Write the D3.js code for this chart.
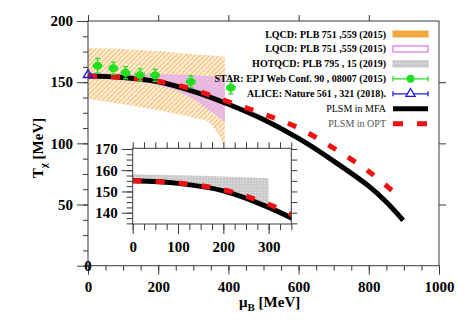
<!DOCTYPE html>
<html><head><meta charset="utf-8">
<script src="https://cdn.jsdelivr.net/npm/d3@7"></script>
<style>
html,body{margin:0;padding:0;background:#fff;}
svg{display:block;font-family:"Liberation Serif","Times New Roman",serif;}
</style></head><body>
<svg id="chart" width="471" height="324"></svg>
<script>
// PLSM chiral pseudo-critical temperature vs baryon chemical potential
const mfaMu = [0, 100, 200, 300, 400, 500, 600, 700, 800, 850, 898];
const mfaT  = [155, 153.8, 150.3, 142.5, 132, 119.5, 104, 85.5, 65, 52, 37];
const optMu = [0, 100, 200, 300, 400, 500, 600, 700, 800, 880];
const optT  = [155, 154, 150.8, 144, 134, 124, 112.5, 96, 77, 58];

// STAR chemical freeze-out points
const starMu    = [27, 72, 107, 148, 191, 293, 407];
const starT     = [163.5, 161.3, 157.7, 155.9, 155.6, 150.4, 145.5];
const starTErr  = [6, 5, 5, 5, 5, 5, 5];
const starMuErr = [12, 12, 12, 12, 12, 12, 12];

// ALICE
const aliceMu = [0];
const aliceT  = [156];

// Lattice QCD bands
const lqcdMu   = [0, 100, 200, 300, 340, 370, 390];
const lqcdLow  = [136.5, 132, 127, 121, 118, 108, 97];
const lqcdHigh = [178, 177.2, 175.5, 172.8, 172, 171.3, 170.8];
const lqcd2Mu   = [0, 100, 200, 260, 300, 340, 370, 390];
const lqcd2Low  = [153, 151.5, 147.5, 142, 136, 128, 122, 117];
const lqcd2High = [157, 156.8, 156.4, 156, 155.6, 155, 154.5, 154];
const hotMu   = [0, 100, 200, 300];
const hotLow  = [154.5, 153.5, 150.5, 143];
const hotHigh = [158.1, 157.6, 157, 156.2];

// Axis ticks
const xTicks = [0, 200, 400, 600, 800, 1000];
const yTicks = [0, 50, 100, 150, 200];
const insetXTicks = [0, 100, 200, 300];
const insetYTicks = [140, 150, 160, 170];

// Legend entries
const legendLabels = [
  "LQCD: PLB  751 ,559 (2015)",
  "LQCD: PLB  751 ,559 (2015)",
  "HOTQCD: PLB  795 , 15  (2019)",
  "STAR: EPJ Web Conf. 90 , 08007 (2015)",
  "ALICE: Nature 561 , 321 (2018).",
  "PLSM in MFA",
  "PLSM in OPT"
];

const svg = d3.select("#chart");
const frameColor = "#3a3a3a";
const C = {orange: "#f2a83c", peach: "#fdebd3", pink: "#e7b6f1", green: "#1fe01f",
           blue: "#1b1bf0", red: "#f01010", black: "#000"};

const defs = svg.append("defs");
const hatch = defs.append("pattern").attr("id", "hatch").attr("patternUnits", "userSpaceOnUse")
  .attr("width", 3.4).attr("height", 3.4).attr("patternTransform", "rotate(45)");
hatch.append("rect").attr("width", 3.4).attr("height", 3.4).attr("fill", C.peach);
hatch.append("line").attr("x1", 0).attr("y1", 0).attr("x2", 0).attr("y2", 3.4)
  .attr("stroke", C.orange).attr("stroke-width", 1.3);
const hatchLines = defs.append("pattern").attr("id", "hatchLines").attr("patternUnits", "userSpaceOnUse")
  .attr("width", 3.4).attr("height", 3.4).attr("patternTransform", "rotate(45)");
hatchLines.append("line").attr("x1", 0).attr("y1", 0).attr("x2", 0).attr("y2", 3.4)
  .attr("stroke", C.orange).attr("stroke-width", 0.8).attr("stroke-opacity", 0.55);
const dots = defs.append("pattern").attr("id", "dots").attr("patternUnits", "userSpaceOnUse")
  .attr("width", 3).attr("height", 3);
dots.append("rect").attr("width", 3).attr("height", 3).attr("fill", "#cbcbcb");
dots.append("path").attr("d", "M0,0L1,1M1,0L0,1").attr("stroke", "#eeeeee").attr("stroke-width", 0.6);

// ---------- main panel ----------
const M = {l: 88, r: 439, t: 21, b: 265.7};
const x = d3.scaleLinear().domain([0, 1000]).range([M.l, M.r]);
const y = d3.scaleLinear().domain([0, 200]).range([M.b, M.t]);

defs.append("clipPath").attr("id", "mainClip").append("rect")
  .attr("x", M.l).attr("y", M.t).attr("width", M.r - M.l).attr("height", M.b - M.t);

const main = svg.append("g").attr("clip-path", "url(#mainClip)");
const smooth = d3.curveCatmullRom.alpha(0.5);

function band(mu, lo, hi, sx, sy) {
  return d3.area().curve(smooth)
    .x((d, i) => sx(mu[i])).y0((d, i) => sy(lo[i])).y1((d, i) => sy(hi[i]))(mu);
}
function curve(mu, t, sx, sy) {
  return d3.line().curve(smooth).x((d, i) => sx(mu[i])).y((d, i) => sy(t[i]))(mu);
}

main.append("path").attr("d", band(lqcdMu, lqcdLow, lqcdHigh, x, y)).attr("fill", "url(#hatch)");
main.append("path").attr("d", band(lqcd2Mu, lqcd2Low, lqcd2High, x, y)).attr("fill", C.pink).attr("fill-opacity", 0.9);
main.append("path").attr("d", band(lqcd2Mu, lqcd2Low, lqcd2High, x, y)).attr("fill", "url(#hatchLines)");

main.append("path").attr("d", curve(mfaMu, mfaT, x, y)).attr("fill", "none")
  .attr("stroke", C.black).attr("stroke-width", 5);
main.append("path").attr("d", curve(optMu, optT, x, y)).attr("fill", "none")
  .attr("stroke", C.red).attr("stroke-width", 5).attr("stroke-dasharray", "9,14");

// STAR points with error bars
const star = svg.append("g");
starMu.forEach((m, i) => {
  const cx = x(m), cy = y(starT[i]);
  const g = star.append("g").attr("stroke", C.green).attr("stroke-width", 1.3);
  g.append("line").attr("x1", cx).attr("x2", cx).attr("y1", y(starT[i] + starTErr[i])).attr("y2", y(starT[i] - starTErr[i]));
  g.append("line").attr("x1", cx - 2.5).attr("x2", cx + 2.5).attr("y1", y(starT[i] + starTErr[i])).attr("y2", y(starT[i] + starTErr[i]));
  g.append("line").attr("x1", cx - 2.5).attr("x2", cx + 2.5).attr("y1", y(starT[i] - starTErr[i])).attr("y2", y(starT[i] - starTErr[i]));
  g.append("line").attr("x1", x(m - starMuErr[i])).attr("x2", x(m + starMuErr[i])).attr("y1", cy).attr("y2", cy);
  g.append("line").attr("x1", x(m - starMuErr[i])).attr("x2", x(m - starMuErr[i])).attr("y1", cy - 2).attr("y2", cy + 2);
  g.append("line").attr("x1", x(m + starMuErr[i])).attr("x2", x(m + starMuErr[i])).attr("y1", cy - 2).attr("y2", cy + 2);
  g.append("circle").attr("cx", cx).attr("cy", cy).attr("r", 4).attr("fill", C.green).attr("stroke", "none");
});

// ALICE point
const tri = d3.symbol().type(d3.symbolTriangle).size(36);
aliceMu.forEach((m, i) => {
  svg.append("path").attr("d", tri()).attr("transform", `translate(${x(m)},${y(aliceT[i])})`)
    .attr("fill", "none").attr("stroke", C.blue).attr("stroke-width", 1.4);
});

// frame + ticks
svg.append("rect").attr("x", M.l).attr("y", M.t).attr("width", M.r - M.l).attr("height", M.b - M.t)
  .attr("fill", "none").attr("stroke", frameColor).attr("stroke-width", 1);

function styleAxis(g) {
  g.select(".domain").remove();
  g.selectAll("line").attr("stroke", frameColor);
  g.selectAll("text").attr("font-size", 15).attr("font-weight", "bold").attr("fill", "#000")
    .attr("font-family", '"Liberation Serif","Times New Roman",serif');
}
const xMinor = d3.range(0, 1001, 50);
const yMinor = d3.range(0, 201, 12.5);

svg.append("g").attr("transform", `translate(0,${M.b})`)
  .call(d3.axisBottom(x).tickValues(xMinor).tickSize(5).tickFormat("")).call(styleAxis);
svg.append("g").attr("transform", `translate(0,${M.b})`)
  .call(d3.axisBottom(x).tickValues(xTicks).tickSize(9).tickPadding(7).tickFormat(d3.format("d"))).call(styleAxis);
svg.append("g").attr("transform", `translate(${M.l},0)`)
  .call(d3.axisLeft(y).tickValues(yMinor).tickSize(5).tickFormat("")).call(styleAxis);
const yAx = svg.append("g").attr("transform", `translate(${M.l},0)`)
  .call(d3.axisLeft(y).tickValues(yTicks).tickSize(11).tickPadding(4).tickFormat(d3.format("d"))).call(styleAxis);
yAx.selectAll(".tick").filter(d => d === 0).select("text").attr("x", 0).attr("text-anchor", "middle");
svg.append("g").attr("transform", `translate(0,${M.t})`)
  .call(d3.axisTop(x).tickValues(xTicks.slice(0, -1)).tickSize(6).tickFormat("")).call(styleAxis);
svg.append("g").attr("transform", `translate(${M.r},0)`)
  .call(d3.axisRight(y).tickValues(yTicks.slice(1, -1)).tickSize(7).tickFormat("")).call(styleAxis);

// axis titles
const yt = svg.append("text").attr("transform", "translate(43,148) rotate(-90)")
  .attr("text-anchor", "middle").attr("font-size", 15).attr("font-weight", "bold");
yt.append("tspan").text("T");
yt.append("tspan").attr("font-size", 11).attr("dy", 4).text("χ");
yt.append("tspan").attr("dy", -4).text(" [MeV]");
const xt = svg.append("text").attr("x", 239).attr("y", 307).attr("font-size", 15).attr("font-weight", "bold");
xt.append("tspan").text("μ");
xt.append("tspan").attr("font-size", 11).attr("dy", 4).text("B");
xt.append("tspan").attr("dy", -4).text(" [MeV]");

// ---------- inset ----------
const I = {l: 132.7, r: 291.3, t: 148.3, b: 224};
const ix = d3.scaleLinear().domain([0, 350]).range([I.l, I.r]);
const iy = d3.scaleLinear().domain([134.7, 170.3]).range([I.b, I.t]);
svg.append("rect").attr("x", I.l).attr("y", I.t).attr("width", I.r - I.l).attr("height", I.b - I.t)
  .attr("fill", "#fff");
defs.append("clipPath").attr("id", "insetClip").append("rect")
  .attr("x", I.l).attr("y", I.t).attr("width", I.r - I.l).attr("height", I.b - I.t);
const inset = svg.append("g").attr("clip-path", "url(#insetClip)");
inset.append("path").attr("d", band(hotMu, hotLow, hotHigh, ix, iy)).attr("fill", "url(#dots)");
inset.append("path").attr("d", curve(mfaMu, mfaT, ix, iy)).attr("fill", "none")
  .attr("stroke", C.black).attr("stroke-width", 5);
inset.append("path").attr("d", curve(optMu, optT, ix, iy)).attr("fill", "none")
  .attr("stroke", C.red).attr("stroke-width", 5).attr("stroke-dasharray", "9,14");
svg.append("rect").attr("x", I.l).attr("y", I.t).attr("width", I.r - I.l).attr("height", I.b - I.t)
  .attr("fill", "none").attr("stroke", frameColor).attr("stroke-width", 1);

const ixMinor = d3.range(0, 351, 25);
const iyMinor = d3.range(135, 170.1, 2.5);
const iyRight = d3.range(135, 170.1, 5);
svg.append("g").attr("transform", `translate(0,${I.b})`)
  .call(d3.axisBottom(ix).tickValues(ixMinor).tickSize(6).tickFormat("")).call(styleAxis);
svg.append("g").attr("transform", `translate(0,${I.b})`)
  .call(d3.axisBottom(ix).tickValues(insetXTicks).tickSize(10).tickPadding(7).tickFormat(d3.format("d"))).call(styleAxis);
svg.append("g").attr("transform", `translate(${I.l},0)`)
  .call(d3.axisLeft(iy).tickValues(iyMinor).tickSize(6).tickFormat("")).call(styleAxis);
svg.append("g").attr("transform", `translate(${I.l},0)`)
  .call(d3.axisLeft(iy).tickValues(insetYTicks).tickSize(11).tickPadding(4).tickFormat(d3.format("d"))).call(styleAxis);
svg.append("g").attr("transform", `translate(0,${I.t})`)
  .call(d3.axisTop(ix).tickValues(ixMinor).tickSize(6).tickFormat("")).call(styleAxis);
svg.append("g").attr("transform", `translate(${I.r},0)`)
  .call(d3.axisRight(iy).tickValues(iyRight).tickSize(6).tickFormat("")).call(styleAxis);

// ---------- legend ----------
const L = {textX: 386, x0: 393, x1: 428, y0: 34, dy: 14.95};
const leg = svg.append("g");
legendLabels.forEach((lab, i) => {
  const cy = L.y0 + i * L.dy;
  const regular = i >= 5;
  leg.append("text").attr("x", L.textX).attr("y", cy + 3.5).attr("text-anchor", "end")
    .attr("font-size", 10).attr("font-weight", regular ? "normal" : "bold")
    .attr("fill", i === 6 ? "#555" : "#000").text(lab);
  const s = leg.append("g");
  if (i === 0) {
    s.append("rect").attr("x", L.x0).attr("y", cy - 3).attr("width", L.x1 - L.x0).attr("height", 6)
      .attr("fill", C.orange).attr("stroke", C.orange).attr("stroke-width", 1);
    s.append("rect").attr("x", L.x0).attr("y", cy - 3).attr("width", L.x1 - L.x0).attr("height", 6)
      .attr("fill", "url(#hatchLines)");
  } else if (i === 1) {
    s.append("rect").attr("x", L.x0).attr("y", cy - 3).attr("width", L.x1 - L.x0).attr("height", 6)
      .attr("fill", "#fff").attr("stroke", "#e070e8").attr("stroke-width", 1.2);
  } else if (i === 2) {
    s.append("rect").attr("x", L.x0).attr("y", cy - 3).attr("width", L.x1 - L.x0).attr("height", 6)
      .attr("fill", "url(#dots)").attr("stroke", "#bdbdbd").attr("stroke-width", 1);
  } else if (i === 3 || i === 4) {
    const col = i === 3 ? C.green : C.blue;
    s.attr("stroke", col).attr("stroke-width", 1.3);
    s.append("line").attr("x1", L.x0).attr("x2", L.x1).attr("y1", cy).attr("y2", cy);
    s.append("line").attr("x1", L.x0).attr("x2", L.x0).attr("y1", cy - 2.5).attr("y2", cy + 2.5);
    s.append("line").attr("x1", L.x1).attr("x2", L.x1).attr("y1", cy - 2.5).attr("y2", cy + 2.5);
    const mx = (L.x0 + L.x1) / 2;
    if (i === 3) s.append("circle").attr("cx", mx).attr("cy", cy).attr("r", 4).attr("fill", col).attr("stroke", "none");
    else s.append("path").attr("d", tri()).attr("transform", `translate(${mx},${cy})`).attr("fill", "#fff");
  } else if (i === 5) {
    s.append("line").attr("x1", L.x0).attr("x2", L.x1).attr("y1", cy).attr("y2", cy)
      .attr("stroke", C.black).attr("stroke-width", 5);
  } else {
    s.append("line").attr("x1", L.x0).attr("x2", L.x1).attr("y1", cy).attr("y2", cy)
      .attr("stroke", C.red).attr("stroke-width", 5).attr("stroke-dasharray", "10,14");
  }
});
</script>
</body></html>
